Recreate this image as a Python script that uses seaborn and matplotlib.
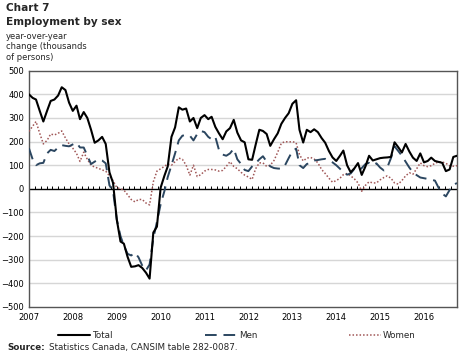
import numpy as np
import pandas as pd
import matplotlib
matplotlib.use("Agg")
import matplotlib.pyplot as plt
import matplotlib.dates as mdates
from matplotlib.lines import Line2D
import seaborn as sns

# monthly year-over-year change, thousands of persons, Jan 2007 - Oct 2016
months = pd.date_range("2007-01-01", "2016-10-01", freq="MS")

total = [400, 385, 378, 330, 285, 330, 372, 378, 395, 430, 418, 365,
         330, 352, 295, 325, 300, 250, 195, 205, 220, 190, 70, 25,
         -130, -223, -232, -288, -330, -328, -323, -335, -355, -380, -185, -160,
         5, 55, 95, 220, 260, 345, 335, 340, 285, 300, 257, 300,
         312, 295, 305, 262, 235, 210, 243, 257, 292, 238, 205, 197,
         125, 123, 186, 250, 245, 232, 182, 210, 235, 275, 300, 320,
         360, 375, 250, 196, 250, 240, 252, 240, 215, 195, 160, 133,
         118, 140, 162, 100, 70, 87, 109, 59, 95, 140, 120, 125,
         130, 132, 133, 135, 197, 176, 154, 190, 158, 132, 118, 150,
         112, 118, 132, 118, 114, 110, 75, 82, 135, 140]

men = [172, 125, 100, 108, 110, 150, 165, 160, 175, 185, 182, 180,
       188, 195, 175, 175, 140, 105, 115, 125, 120, 108, 15, -10,
       -130, -200, -240, -275, -282, -270, -290, -325, -345, -320, -210, -140,
       -65, -10, 50, 100, 150, 205, 225, 228, 225, 205, 232, 245,
       240, 220, 210, 220, 165, 145, 140, 150, 170, 125, 105, 80,
       75, 95, 108, 125, 138, 115, 95, 88, 86, 85, 100, 130,
       160, 170, 100, 88, 105, 110, 120, 122, 125, 127, 120, 112,
       100, 85, 70, 60, 65, 85, 75, 88, 105, 110, 100, 108,
       90, 78, 90, 130, 180, 160, 140, 115, 90, 70, 58, 48,
       45, 42, 38, 35, 5, -20, -32, -5, 15, 25]

women = [243, 265, 285, 235, 190, 205, 232, 228, 235, 245, 215, 190,
         172, 150, 116, 155, 125, 100, 92, 87, 80, 75, 55, 35,
         5, 0, -5, -25, -45, -55, -45, -45, -60, -68, 30, 75,
         85, 95, 105, 100, 115, 130, 125, 100, 58, 100, 52, 60,
         75, 82, 82, 80, 75, 78, 95, 115, 95, 85, 70, 58,
         50, 40, 85, 110, 110, 95, 100, 120, 155, 193, 200, 198,
         200, 195, 145, 118, 130, 133, 126, 110, 82, 65, 45, 28,
         35, 45, 60, 65, 55, 42, 25, -10, 15, 30, 25, 25,
         38, 48, 55, 45, 25, 20, 35, 55, 68, 62, 85, 110,
         98, 94, 98, 108, 114, 114, 108, 98, 96, 98]

series_names = ["Total", "Men", "Women"]
y_ticks = list(range(-500, 501, 100))

df = pd.DataFrame({"month": months, "Total": total, "Men": men, "Women": women})
long_df = df.melt(id_vars="month", var_name="series", value_name="change")

sns.set_style("white")
plt.rcParams["font.family"] = ["DejaVu Sans"]

fig = plt.figure(figsize=(4.74, 3.58), dpi=100)
ax = fig.add_axes([0.061, 0.1425, 0.903, 0.660])

styles = {
    "Total": dict(color="black", lw=1.5, ls="-"),
    "Men": dict(color="#2b4660", lw=1.4, ls=(0, (6, 3.5))),
    "Women": dict(color="#a05656", lw=1.1, ls=(0, (1, 1.3))),
}

# gridlines first
for v in y_ticks:
    if v not in (-500, 0, 500):
        ax.axhline(v, color="#d6d6d6", lw=1.0, zorder=0)

for name in ["Women", "Men", "Total"]:
    sub = long_df[long_df["series"] == name]
    st = styles[name]
    sns.lineplot(data=sub, x="month", y="change", ax=ax, color=st["color"],
                 linewidth=st["lw"], linestyle=st["ls"], legend=False, zorder=3)

ax.axhline(0, color="black", lw=1.0, zorder=2)
x0 = mdates.date2num(months[0])
x1 = mdates.date2num(months[-1])
ax.vlines(np.linspace(x0, x1, 74), 0, 13, color="black", lw=0.7, zorder=2)

ax.set_xlim(months[0], months[-1])
ax.set_ylim(-500, 500)
ax.set_yticks(y_ticks)
ax.xaxis.set_major_locator(mdates.YearLocator())
ax.xaxis.set_major_formatter(mdates.DateFormatter("%Y"))
ax.tick_params(axis="both", length=0, labelsize=6.0, colors="black")
ax.tick_params(axis="y", pad=3.5)
ax.tick_params(axis="x", pad=4)
ax.set_xlabel("")
ax.set_ylabel("")
for sp in ax.spines.values():
    sp.set_visible(True)
    sp.set_color("#555555")
    sp.set_linewidth(1.0)

# titles
fig.text(0.013, 0.992, "Chart 7", fontsize=7.6, fontweight="bold", va="top")
fig.text(0.013, 0.952, "Employment by sex", fontsize=7.6, fontweight="bold", va="top")
fig.text(0.013, 0.912, "year-over-year\nchange (thousands\nof persons)", fontsize=6.0,
         va="top", linespacing=1.25)

# legend
handles = [Line2D([], [], color=styles[n]["color"], lw=styles[n]["lw"],
                  ls=styles[n]["ls"]) for n in series_names]
fig.legend(handles, series_names, loc="center", bbox_to_anchor=(0.5, 0.062),
           ncol=3, frameon=False, fontsize=6.3, handlelength=3.6,
           columnspacing=10.5, handletextpad=0.3)

# source
fig.text(0.015, 0.018, "Source:", fontsize=6.3, fontweight="bold", va="bottom")
fig.text(0.103, 0.018, "Statistics Canada, CANSIM table 282-0087.", fontsize=6.3,
         va="bottom")

fig.savefig("out.png", dpi=100)
